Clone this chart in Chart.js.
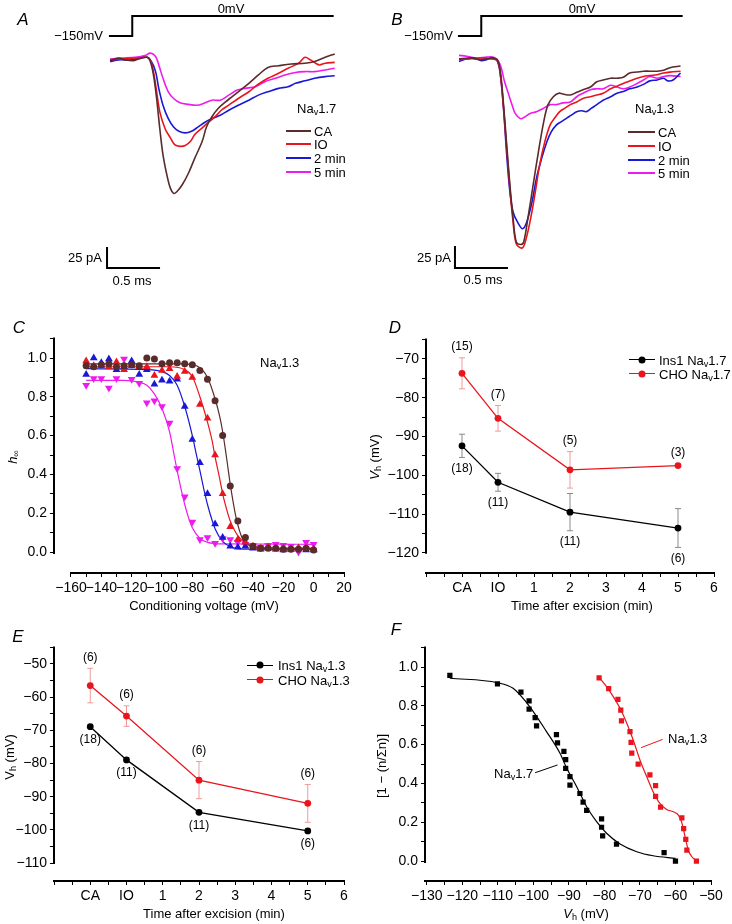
<!DOCTYPE html>
<html>
<head>
<meta charset="utf-8">
<title>Nav inactivation after excision</title>
<script src="https://cdn.jsdelivr.net/npm/chart.js@4.4.1/dist/chart.umd.min.js"></script>
<style>
  body { margin: 0; background: #fff; }
  #fig { position: relative; width: 732px; height: 924px; overflow: hidden; font-family: "Liberation Sans", Arial, sans-serif; color: #000; }
  #fig canvas { position: absolute; }
  .t { position: absolute; font-size: 13px; line-height: 1; white-space: nowrap; transform: translate(-50%, -50%); }
  .t.l { transform: translate(0, -50%); }
  .t.r { transform: translate(-100%, -50%); }
  .t.v { transform: translate(-50%, -50%) rotate(-90deg); }
  .t.p { font-size: 17px; font-style: italic; }
  .t sub { font-size: 0.7em; vertical-align: -0.3em; line-height: 0; }
  .key { position: absolute; height: 2px; }
  .key.thin { height: 1.3px; }
  .dot { position: absolute; width: 7px; height: 7px; border-radius: 50%; transform: translate(-50%, -50%); }
</style>
</head>
<body>
<div id="fig">
  <canvas id="cA" width="366" height="300" style="left:0;top:0"></canvas>
  <canvas id="cB" width="366" height="300" style="left:366px;top:0"></canvas>
  <canvas id="cC" width="366" height="320" style="left:0;top:300px"></canvas>
  <canvas id="cD" width="366" height="320" style="left:366px;top:300px"></canvas>
  <canvas id="cE" width="366" height="304" style="left:0;top:620px"></canvas>
  <canvas id="cF" width="366" height="304" style="left:366px;top:620px"></canvas>

  <!-- A -->
  <div class="t p" style="left:23px;top:19px">A</div>
  <div class="t" style="left:231px;top:8px">0mV</div>
  <div class="t r" style="left:103px;top:35px">−150mV</div>
  <div class="t r" style="left:102px;top:257px">25 pA</div>
  <div class="t" style="left:132px;top:280px">0.5 ms</div>
  <div class="t l" style="left:297px;top:108px">Na<sub>v</sub>1.7</div>
  <div class="key" style="left:286px;top:130px;width:25px;background:#5a2b2b"></div>
  <div class="key" style="left:286px;top:143px;width:25px;background:#e8151d"></div>
  <div class="key" style="left:286px;top:157px;width:25px;background:#1818d6"></div>
  <div class="key" style="left:286px;top:171px;width:25px;background:#ee1bee"></div>
  <div class="t l" style="left:314px;top:131px">CA</div>
  <div class="t l" style="left:314px;top:144px">IO</div>
  <div class="t l" style="left:314px;top:158px">2 min</div>
  <div class="t l" style="left:314px;top:172px">5 min</div>

  <!-- B -->
  <div class="t p" style="left:397px;top:19px">B</div>
  <div class="t" style="left:582px;top:8px">0mV</div>
  <div class="t r" style="left:453px;top:35px">−150mV</div>
  <div class="t r" style="left:451px;top:257px">25 pA</div>
  <div class="t" style="left:483px;top:279px">0.5 ms</div>
  <div class="t l" style="left:635px;top:108px">Na<sub>v</sub>1.3</div>
  <div class="key" style="left:628px;top:131px;width:27px;background:#5a2b2b"></div>
  <div class="key" style="left:628px;top:145px;width:27px;background:#e8151d"></div>
  <div class="key" style="left:628px;top:159px;width:27px;background:#1818d6"></div>
  <div class="key" style="left:628px;top:172px;width:27px;background:#ee1bee"></div>
  <div class="t l" style="left:658px;top:132px">CA</div>
  <div class="t l" style="left:658px;top:146px">IO</div>
  <div class="t l" style="left:658px;top:160px">2 min</div>
  <div class="t l" style="left:658px;top:173px">5 min</div>

  <!-- C -->
  <div class="t p" style="left:19px;top:327px">C</div>
  <div class="t l" style="left:260px;top:362px">Na<sub>v</sub>1.3</div>
  <div class="t v" style="left:12px;top:457px"><i>h</i><sub>∞</sub></div>
  <div class="t" style="left:204px;top:605px">Conditioning voltage (mV)</div>

  <!-- D -->
  <div class="t p" style="left:395px;top:327px">D</div>
  <div class="t v" style="left:374px;top:457px"><i>V</i><sub>h</sub> (mV)</div>
  <div class="t" style="left:582px;top:605px">Time after excision (min)</div>
  <div class="key thin" style="left:629px;top:359px;width:26px;background:#000"></div>
  <div class="dot" style="left:642px;top:359.5px;background:#000"></div>
  <div class="key thin" style="left:629px;top:373px;width:26px;background:#e8151d"></div>
  <div class="dot" style="left:642px;top:373.5px;background:#e8151d"></div>
  <div class="t l" style="left:659px;top:360px">Ins1 Na<sub>v</sub>1.7</div>
  <div class="t l" style="left:659px;top:374px">CHO Na<sub>v</sub>1.7</div>

  <!-- E -->
  <div class="t p" style="left:18px;top:636px">E</div>
  <div class="t v" style="left:9px;top:757px">V<sub>h</sub> (mV)</div>
  <div class="t" style="left:214px;top:913px">Time after excision (min)</div>
  <div class="key thin" style="left:247px;top:664.5px;width:26px;background:#000"></div>
  <div class="dot" style="left:260px;top:665px;background:#000"></div>
  <div class="key thin" style="left:247px;top:679px;width:26px;background:#e8151d"></div>
  <div class="dot" style="left:260px;top:679.5px;background:#e8151d"></div>
  <div class="t l" style="left:278px;top:665px">Ins1 Na<sub>v</sub>1.3</div>
  <div class="t l" style="left:278px;top:680px">CHO Na<sub>v</sub>1.3</div>

  <!-- F -->
  <div class="t p" style="left:396px;top:629px">F</div>
  <div class="t v" style="left:381px;top:766px">[1 − (n/Σn)]</div>
  <div class="t" style="left:586px;top:913px"><i>V</i><sub>h</sub> (mV)</div>
  <div class="t l" style="left:668px;top:738px">Na<sub>v</sub>1.3</div>
  <div class="t l" style="left:494px;top:773px">Na<sub>v</sub>1.7</div>
</div>

<script>
const FONT = '"Liberation Sans", Arial, sans-serif';
const BROWN = '#5a2b2b', RED = '#e8151d', BLUE = '#1818d6', MAGENTA = '#ee1bee';
const ERR_RED = '#f09a9a', ERR_BLACK = '#8a8a8a';

// ---------- A / B : voltage step and current traces (time in ms, current in pA)
const stepTime = [-0.01, 0.21, 0.21, 2.11];
const stepVolt = [-150, -150, 0, 0];

// A, Nav1.7
const aTimeCA = [0,0.08,0.14,0.22,0.27,0.35,0.38,0.41,0.44,0.47,0.50,0.54,0.57,0.60,0.63,0.68,0.74,0.80,0.87,0.91,0.96,1.02,1.09,1.15,1.21,1.31,1.40,1.49,1.59,1.71,1.84,1.93,2.03,2.12];
const aCurCA  = [-2,1,-1,-2,0,2,-3,-19,-47,-83,-114,-140,-154,-160,-158,-150,-136,-118,-98,-81,-69,-59,-51,-45,-39,-29,-19,-10,-8,-6,-5,-3,2,6];
const aTimeIO = [0,0.11,0.24,0.35,0.38,0.41,0.44,0.47,0.52,0.57,0.61,0.66,0.71,0.76,0.80,0.87,0.93,0.99,1.05,1.12,1.21,1.31,1.40,1.49,1.59,1.68,1.78,1.84,1.89,1.97,2.03,2.12];
const aCurIO  = [-1,0,1,2,-1,-15,-39,-63,-83,-94,-102,-104,-103,-98,-90,-82,-75,-69,-61,-55,-47,-39,-30,-23,-17,-11,-5,2,-1,-7,-5,-4];
const aTime2  = [0,0.08,0.20,0.35,0.39,0.43,0.46,0.50,0.55,0.60,0.65,0.71,0.77,0.83,0.90,0.96,1.04,1.12,1.21,1.31,1.40,1.49,1.59,1.68,1.75,1.84,1.93,2.03,2.12];
const aCur2   = [-3,-1,-1,2,-3,-15,-35,-55,-71,-81,-86,-88,-86,-81,-75,-71,-67,-61,-55,-49,-43,-39,-35,-33,-29,-26,-23,-21,-20];
const aTime5  = [0,0.11,0.24,0.33,0.38,0.43,0.46,0.50,0.55,0.60,0.66,0.74,0.82,0.88,0.96,1.04,1.12,1.20,1.27,1.37,1.46,1.56,1.65,1.75,1.84,1.93,2.03,2.12];
const aCur5   = [0,1,2,4,7,3,-7,-23,-39,-47,-52,-54,-55,-53,-49,-49,-43,-37,-35,-33,-27,-23,-19,-16,-15,-15,-13,-11];

// B, Nav1.3
const bTimeCA = [0,0.10,0.20,0.26,0.31,0.36,0.39,0.42,0.45,0.48,0.51,0.54,0.58,0.61,0.65,0.70,0.75,0.80,0.84,0.89,0.94,0.98,1.05,1.11,1.17,1.24,1.30,1.36,1.43,1.49,1.55,1.61,1.68,1.74,1.80,1.87,1.93,1.99,2.09];
const bCurCA  = [-1,0,-2,-1,0,-2,-15,-53,-99,-144,-182,-209,-212,-209,-182,-144,-106,-72,-53,-44,-40,-41,-42,-39,-36,-33,-27,-25,-23,-23,-22,-17,-16,-15,-15,-15,-14,-11,-9];
const bTimeIO = [0,0.10,0.20,0.29,0.36,0.39,0.42,0.45,0.48,0.51,0.54,0.59,0.62,0.67,0.72,0.76,0.81,0.86,0.91,0.95,1.00,1.05,1.11,1.17,1.24,1.30,1.36,1.43,1.49,1.55,1.61,1.68,1.74,1.80,1.87,1.93,1.99,2.09];
const bCurIO  = [-2,-1,0,-1,-3,-19,-57,-103,-148,-186,-211,-216,-211,-186,-152,-122,-95,-76,-67,-61,-57,-53,-50,-46,-44,-42,-40,-35,-32,-29,-26,-23,-21,-20,-19,-17,-16,-15];
const bTime2  = [0,0.07,0.15,0.21,0.26,0.31,0.36,0.39,0.42,0.45,0.48,0.51,0.55,0.60,0.64,0.69,0.73,0.78,0.83,0.87,0.92,0.97,1.02,1.06,1.11,1.16,1.20,1.25,1.30,1.36,1.43,1.49,1.55,1.61,1.68,1.74,1.80,1.87,1.93,1.97,2.02,2.09];
const bCur2   = [-4,-1,0,-3,-2,0,-3,-19,-57,-110,-152,-175,-186,-194,-186,-163,-137,-114,-95,-84,-76,-72,-68,-65,-61,-60,-61,-57,-53,-48,-44,-40,-38,-35,-33,-30,-26,-25,-23,-26,-25,-17];
const bTime5  = [0,0.07,0.17,0.26,0.32,0.37,0.40,0.43,0.47,0.50,0.53,0.58,0.62,0.67,0.73,0.80,0.86,0.92,0.98,1.05,1.11,1.17,1.24,1.30,1.36,1.43,1.49,1.55,1.61,1.68,1.74,1.80,1.87,1.93,1.99,2.09];
const bCur5   = [3,2,0,1,1,-3,-12,-27,-42,-53,-63,-69,-67,-63,-61,-57,-53,-53,-51,-50,-44,-40,-36,-35,-35,-31,-33,-35,-33,-29,-25,-21,-23,-21,-20,-21];

// ---------- C : steady-state inactivation, Nav1.3
const cVolt = [-150,-145,-140,-135,-130,-125,-120,-115,-110,-105,-100,-95,-90,-85,-80,-75,-70,-65,-60,-55,-50,-45,-40,-35,-30,-25,-20,-15,-10,-5,0];
const cHCA = [0.96,0.955,0.965,0.97,0.955,0.96,0.965,0.96,1.0,0.995,0.97,0.975,0.975,0.97,0.965,0.935,0.89,0.78,0.60,0.34,0.16,0.075,0.03,0.02,0.02,0.02,0.015,0.015,0.015,0.02,0.01];
const cHIO = [0.985,0.96,0.96,0.955,0.98,0.94,0.96,0.955,0.955,0.91,0.935,0.945,0.905,0.93,0.90,0.76,0.69,0.50,0.30,0.13,0.065,0.05,0.03,0.02,0.025,0.02,0.02,0.015,0.02,0.02,0.015];
const cH2  = [0.915,1.0,0.975,0.995,0.94,0.955,0.985,0.915,0.94,0.865,0.885,0.88,0.89,0.75,0.58,0.46,0.30,0.145,0.075,0.03,0.025,0.03,0.02,0.015,0.02,0.015,0.01,0.015,0.02,0.01,0.01];
const cH5  = [0.86,0.895,0.895,0.845,0.895,0.995,0.89,0.87,0.77,0.78,0.75,0.665,0.43,0.285,0.155,0.065,0.075,0.045,0.07,0.065,0.05,0.04,0.035,0.025,0.035,0.04,0.035,0.03,0.0,0.05,0.04];
// fitted curves
const fitCAv = [-150,-90,-80,-75,-70,-65,-62,-60,-57.5,-55,-52,-50,-47,-45,-40,-30,0];
const fitCAh = [0.97,0.97,0.965,0.95,0.90,0.79,0.70,0.62,0.49,0.35,0.21,0.14,0.07,0.05,0.025,0.017,0.015];
const fitIOv = [-150,-95,-85,-80,-75,-70,-67,-65,-62,-60,-57,-55,-52,-50,-45,-40,-30,0];
const fitIOh = [0.955,0.955,0.94,0.905,0.80,0.67,0.575,0.49,0.38,0.30,0.21,0.16,0.11,0.085,0.045,0.03,0.022,0.02];
const fit2v  = [-150,-110,-100,-95,-90,-85,-80,-77,-75,-72,-70,-65,-60,-55,-50,-40,0];
const fit2h  = [0.945,0.94,0.93,0.91,0.86,0.75,0.60,0.49,0.42,0.31,0.245,0.12,0.055,0.028,0.018,0.015,0.015];
const fit5v  = [-150,-125,-115,-110,-105,-100,-95,-92,-90,-87,-85,-82,-80,-75,-70,-60,0];
const fit5h  = [0.885,0.885,0.875,0.86,0.815,0.74,0.62,0.50,0.42,0.31,0.245,0.165,0.125,0.07,0.05,0.042,0.04];

// ---------- D / E : Vh vs time after excision (CA = -1, IO = 0)
const timePos = [-1, 0, 2, 5];
const dIns = [-92.4, -101.8, -109.5, -113.6], dInsErr = [3.0, 2.3, 4.8, 5.0], dInsN = [18, 11, 11, 6];
const dCho = [-73.7, -85.3, -98.6, -97.5],   dChoErr = [4.0, 3.3, 4.7, 0.4], dChoN = [15, 7, 5, 3];
const eIns = [-68.9, -78.9, -94.7, -100.3],  eInsErr = [0, 0, 0, 0],        eInsN = [18, 11, 11, 6];
const eCho = [-56.5, -65.7, -85.0, -92.0],   eChoErr = [5.2, 3.1, 5.6, 5.7], eChoN = [6, 6, 6, 6];

// ---------- F : cumulative distribution of Vh
const f17v = [-123.5,-110.1,-103.5,-101.2,-101.2,-99.5,-99.1,-93.5,-93.2,-91.4,-90.9,-90.9,-89.7,-89.7,-86.9,-86.0,-85.0,-80.8,-80.8,-80.5,-76.6,-63.2,-60.0];
const f17h = [0.957,0.913,0.870,0.826,0.783,0.739,0.696,0.652,0.609,0.565,0.522,0.478,0.435,0.391,0.348,0.304,0.261,0.217,0.174,0.130,0.087,0.043,0.0];
const f13v = [-81.5,-78.8,-76.2,-75.4,-75.2,-72.8,-72.5,-72.3,-70.5,-67.2,-65.6,-65.6,-64.2,-58.2,-57.7,-57.1,-56.8,-54.1];
const f13h = [0.944,0.889,0.833,0.778,0.722,0.667,0.611,0.556,0.500,0.444,0.389,0.333,0.278,0.222,0.167,0.111,0.056,0.0];
const fit17v = [-123.5,-110.1,-105.7,-101,-96.3,-92.5,-90.6,-87.8,-85,-82.2,-79.4,-75.6,-70.9,-66.3,-60];
const fit17h = [0.942,0.919,0.890,0.795,0.667,0.555,0.478,0.383,0.280,0.203,0.143,0.088,0.048,0.027,0.014];
const fit13v = [-81.5,-79.4,-77.5,-75.6,-73.7,-71.9,-70,-68.1,-66.3,-64.4,-62.5,-60.6,-59.2,-58.3,-57.3,-56.4,-55.4,-54.1];
const fit13h = [0.947,0.899,0.847,0.787,0.710,0.624,0.521,0.435,0.357,0.297,0.266,0.254,0.237,0.203,0.125,0.057,0.022,0.002];

// ---------- helpers
const pts = (xs, ys) => xs.map((x, i) => ({x: x, y: ys[i]}));
const fmt = v => (v < 0 ? '\u2212' : '') + Math.abs(v);
const every = (n, f) => v => Math.abs(v / n - Math.round(v / n)) < 1e-6 ? f(v) : '';

// axis lines (with Origin-style gaps), error bars, n labels, leader lines
const decor = {
  id: 'decor',
  defaults: {},
  beforeDatasetsDraw(chart, args, o) {
    const {ctx, chartArea: ca, scales} = chart;
    ctx.save();
    ctx.strokeStyle = '#000';
    ctx.lineWidth = 2;
    if (o.xLine) {
      ctx.beginPath();
      ctx.moveTo(scales.x.getPixelForValue(o.xLine[0]) - 1, ca.bottom);
      ctx.lineTo(scales.x.getPixelForValue(o.xLine[1]) + 1, ca.bottom);
      ctx.stroke();
    }
    if (o.yLine) {
      ctx.beginPath();
      ctx.moveTo(ca.left, scales.y.getPixelForValue(o.yLine[0]) + 1);
      ctx.lineTo(ca.left, scales.y.getPixelForValue(o.yLine[1]) - 1);
      ctx.stroke();
    }
    chart.data.datasets.forEach((ds, i) => {
      if (!ds.errors) return;
      const meta = chart.getDatasetMeta(i);
      ctx.strokeStyle = ds.errColor;
      ctx.lineWidth = 1;
      meta.data.forEach((el, j) => {
        const e = ds.errors[j];
        if (!e) return;
        const v = ds.data[j].y;
        const yt = scales.y.getPixelForValue(v + e), yb = scales.y.getPixelForValue(v - e);
        ctx.beginPath();
        ctx.moveTo(el.x, yt); ctx.lineTo(el.x, yb);
        ctx.moveTo(el.x - 3, yt); ctx.lineTo(el.x + 3, yt);
        ctx.moveTo(el.x - 3, yb); ctx.lineTo(el.x + 3, yb);
        ctx.stroke();
      });
    });
    if (o.leaders) {
      ctx.lineWidth = 1;
      o.leaders.forEach(L => {
        ctx.strokeStyle = L[4];
        ctx.beginPath();
        ctx.moveTo(scales.x.getPixelForValue(L[0]), scales.y.getPixelForValue(L[1]));
        ctx.lineTo(scales.x.getPixelForValue(L[2]), scales.y.getPixelForValue(L[3]));
        ctx.stroke();
      });
    }
    ctx.restore();
  },
  afterDatasetsDraw(chart) {
    const {ctx, scales} = chart;
    ctx.save();
    ctx.font = '12px ' + FONT;
    ctx.fillStyle = '#000';
    ctx.textAlign = 'center';
    ctx.textBaseline = 'middle';
    chart.data.datasets.forEach((ds, i) => {
      if (!ds.counts) return;
      const meta = chart.getDatasetMeta(i);
      meta.data.forEach((el, j) => {
        const v = ds.data[j].y, e = ds.errors ? ds.errors[j] : 0;
        const y = ds.countSide === 'above'
          ? scales.y.getPixelForValue(v + e) - (e ? 11 : 12)
          : scales.y.getPixelForValue(v - e) + (e ? 11 : 13);
        ctx.fillText('(' + ds.counts[j] + ')', el.x, y);
      });
    });
    ctx.restore();
  }
};
Chart.register(decor);
Chart.defaults.font.family = FONT;

function axis(min, max, step, from, to, label, size, horizontal) {
  return {
    type: 'linear', min: min, max: max,
    border: {display: false},
    grid: {
      drawOnChartArea: false, tickLength: 4, tickWidth: 1,
      tickColor: c => (c.tick && (c.tick.value < from - 1e-6 || c.tick.value > to + 1e-6)) ? 'rgba(0,0,0,0)' : '#000'
    },
    ticks: {
      stepSize: step, includeBounds: false, autoSkip: false, maxRotation: 0, minRotation: 0,
      color: '#000', padding: 3, font: {family: FONT, size: 14}, callback: label
    },
    afterFit: s => { if (horizontal) s.height = size; else s.width = size; }
  };
}

function baseOptions(pad, scales, decorOpts) {
  return {
    responsive: false, animation: false, events: [],
    layout: {padding: pad},
    plugins: {legend: {display: false}, tooltip: {enabled: false}, decor: decorOpts || {}},
    scales: scales
  };
}

// ---------- traces (A, B)
function traceChart(id, anchor, traces, bar) {
  const W = 366, H = 300;
  const xmin = -anchor.x0 / anchor.pxPerMs, xmax = (W - anchor.x0) / anchor.pxPerMs;
  const ymax = anchor.y0 / anchor.pxPerPA, ymin = -(H - anchor.y0) / anchor.pxPerPA;
  const vmax = anchor.v0 / anchor.pxPerMV, vmin = -(H - anchor.v0) / anchor.pxPerMV;
  const ds = traces.map(tr => ({
    data: pts(tr[0], tr[1]), borderColor: tr[2], borderWidth: 1.6,
    showLine: true, pointRadius: 0, tension: 0.35
  }));
  ds.push({data: pts(stepTime, stepVolt), yAxisID: 'yV', borderColor: '#000', borderWidth: 2,
           showLine: true, pointRadius: 0, tension: 0});
  ds.push({data: [{x: bar.t, y: bar.i + 25}, {x: bar.t, y: bar.i}, {x: bar.t + 0.5, y: bar.i}],
           borderColor: '#000', borderWidth: 2, showLine: true, pointRadius: 0, tension: 0});
  new Chart(document.getElementById(id), {
    type: 'scatter',
    data: {datasets: ds},
    options: baseOptions(0, {
      x: {type: 'linear', display: false, min: xmin, max: xmax},
      y: {type: 'linear', display: false, min: ymin, max: ymax},
      yV: {type: 'linear', display: false, min: vmin, max: vmax}
    })
  });
}

traceChart('cA', {x0: 110, pxPerMs: 106, y0: 59, pxPerPA: 0.84, v0: 16, pxPerMV: 20 / 150}, [
  [aTimeCA, aCurCA, BROWN], [aTimeIO, aCurIO, RED], [aTime2, aCur2, BLUE], [aTime5, aCur5, MAGENTA]
], {t: -0.028, i: -248.8});

traceChart('cB', {x0: 93, pxPerMs: 106, y0: 58, pxPerPA: 0.88, v0: 16, pxPerMV: 20 / 150}, [
  [bTimeCA, bCurCA, BROWN], [bTimeIO, bCurIO, RED], [bTime2, bCur2, BLUE], [bTime5, bCur5, MAGENTA]
], {t: -0.038, i: -238.6});

// ---------- C
const hLabel = every(0.2, v => Math.abs(v).toFixed(1));
const pointSet = (xs, ys, color, style, rot, r) => ({
  data: pts(xs, ys), borderColor: color, backgroundColor: color, pointStyle: style,
  rotation: rot, pointRadius: r, pointBorderWidth: 0, showLine: false
});
const fitSet = (xs, ys, color) => ({
  data: pts(xs, ys), borderColor: color, borderWidth: 1.2, showLine: true,
  pointRadius: 0, tension: 0.4, cubicInterpolationMode: 'monotone'
});
new Chart(document.getElementById('cC'), {
  type: 'scatter',
  data: {datasets: [
    pointSet(cVolt, cHCA, BROWN, 'circle', 0, 3.5),
    pointSet(cVolt, cHIO, RED, 'triangle', 0, 4.5),
    pointSet(cVolt, cH2, BLUE, 'triangle', 0, 4.5),
    pointSet(cVolt, cH5, MAGENTA, 'triangle', 180, 4.5),
    fitSet(fitCAv, fitCAh, BROWN), fitSet(fitIOv, fitIOh, RED),
    fitSet(fit2v, fit2h, BLUE), fitSet(fit5v, fit5h, MAGENTA)
  ]},
  options: baseOptions({left: 0, top: 38.6, right: 22, bottom: 0}, {
    x: axis(-171.2, 20, 10, -160, 20, every(20, fmt), 47, true),
    y: axis(-0.108, 1.1, 0.1, 0, 1.1, hLabel, 54, false)
  }, {xLine: [-160, 20], yLine: [-0.005, 1.1]})
});

// ---------- D / E
const timeLabel = every(1, v => v === -1 ? 'CA' : v === 0 ? 'IO' : v > 0 ? String(v) : '');
const vhSet = (ys, errs, ns, color, errColor, side) => ({
  data: pts(timePos, ys), borderColor: color, backgroundColor: color, borderWidth: 1.3,
  pointRadius: 3.4, pointBorderWidth: 0, showLine: true, tension: 0,
  errors: errs, errColor: errColor, counts: ns, countSide: side
});
new Chart(document.getElementById('cD'), {
  type: 'scatter',
  data: {datasets: [
    vhSet(dIns, dInsErr, dInsN, '#000', ERR_BLACK, 'below'),
    vhSet(dCho, dChoErr, dChoN, RED, ERR_RED, 'above')
  ]},
  options: baseOptions({left: 0, top: 39.6, right: 18, bottom: 0}, {
    x: axis(-2, 6, 0.5, -2, 6, timeLabel, 47, true),
    y: axis(-125.2, -65, 5, -120, -65, every(10, fmt), 60, false)
  }, {xLine: [-2, 6], yLine: [-120, -65]})
});
new Chart(document.getElementById('cE'), {
  type: 'scatter',
  data: {datasets: [
    vhSet(eIns, eInsErr, eInsN, '#000', ERR_BLACK, 'below'),
    vhSet(eCho, eChoErr, eChoN, RED, ERR_RED, 'above')
  ]},
  options: baseOptions({left: 0, top: 27.4, right: 22, bottom: 0}, {
    x: axis(-2, 6, 0.5, -2, 6, timeLabel, 43, true),
    y: axis(-115.4, -45, 5, -110, -45, every(10, fmt), 54, false)
  }, {xLine: [-2, 6], yLine: [-110, -45]})
});

// ---------- F
new Chart(document.getElementById('cF'), {
  type: 'scatter',
  data: {datasets: [
    pointSet(f17v, f17h, '#000', 'rect', 0, 3.7),
    pointSet(f13v, f13h, RED, 'rect', 0, 3.7),
    fitSet(fit17v, fit17h, '#000'),
    fitSet(fit13v, fit13h, RED)
  ]},
  options: baseOptions({left: 0, top: 27.6, right: 21, bottom: 0}, {
    x: axis(-130.5, -50, 5, -130.5, -50, every(10, fmt), 43, true),
    y: axis(-0.103, 1.1, 0.1, 0, 1.1, hLabel, 59, false)
  }, {xLine: [-130.5, -50], yLine: [-0.005, 1.1],
      leaders: [[-69.7, 0.584, -63.6, 0.627, RED], [-99.5, 0.455, -93.2, 0.495, '#000']]})
});
</script>
</body>
</html>
